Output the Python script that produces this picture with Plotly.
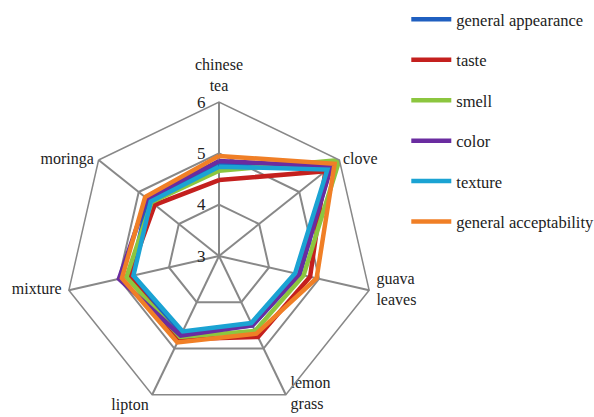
import plotly.graph_objects as go

categories = ["chinese tea", "clove", "guava leaves", "lemon grass", "lipton", "mixture", "moringa"]
category_labels = ["chinese<br>tea", "clove", "guava<br>leaves", "lemon<br>grass", "lipton", "mixture", "moringa"]

series_names = ["general appearance", "taste", "smell", "color", "texture", "general acceptability"]
general_appearance = [4.79, 5.78, 4.61, 4.50, 4.68, 4.76, 4.77]
taste = [4.48, 5.65, 4.82, 4.75, 4.80, 4.80, 4.60]
smell = [4.66, 6.00, 4.69, 4.62, 4.75, 4.85, 4.68]
color = [4.85, 5.80, 4.60, 4.50, 4.72, 5.00, 4.80]
texture = [4.74, 5.70, 4.52, 4.45, 4.63, 4.71, 4.70]
general_acceptability = [4.95, 5.88, 4.95, 4.68, 4.87, 4.94, 4.84]

radial_ticks = [3, 4, 5, 6]

all_series = [general_appearance, taste, smell, color, texture, general_acceptability]
colors = ["#1F5FC0", "#C4201E", "#8CC63F", "#6A2CA0", "#1BA3D3", "#F07F26"]

FONT = "Liberation Serif"
TEXT_COLOR = "#222222"
R_MAX = radial_ticks[-1]
label_positions = ["top center", "middle right", "middle right", "middle right",
                   "bottom left", "middle left", "middle left"]
label_gaps = [10, 4, 10, 6, 4, 10, 6]

fig = go.Figure()
for i, (name, vals, c) in enumerate(zip(series_names, all_series, colors)):
    fig.add_trace(go.Scatterpolar(
        r=vals + [vals[0]],
        theta=categories + [categories[0]],
        mode="lines",
        name=name,
        legendgroup=f"g{i}",
        line=dict(color=c, width=4.5),
    ))

# category labels, placed at the outer ring through the polar axes
fig.add_trace(go.Scatterpolar(
    r=[R_MAX] * len(categories),
    theta=categories,
    mode="markers+text",
    marker=dict(size=label_gaps, opacity=0),
    text=category_labels,
    textposition=label_positions,
    textfont=dict(family=FONT, size=16, color=TEXT_COLOR),
    showlegend=False,
    hoverinfo="skip",
    cliponaxis=False,
))

fig.update_layout(
    width=594, height=417,
    margin=dict(l=0, r=0, t=0, b=0, autoexpand=False),
    paper_bgcolor="white",
    plot_bgcolor="white",
    font=dict(family=FONT, size=15, color=TEXT_COLOR),
    showlegend=True,
    legend=dict(
        x=0.684, y=0.995, xanchor="left", yanchor="top",
        tracegroupgap=16,
        itemwidth=40,
        font=dict(family=FONT, size=16.5, color=TEXT_COLOR),
        bgcolor="rgba(0,0,0,0)",
    ),
    polar=dict(
        domain=dict(x=[65/594, 373/594], y=[1-410/417, 1-102/417]),
        bgcolor="white",
        gridshape="linear",
        radialaxis=dict(
            range=[3, 6],
            tickvals=radial_ticks,
            ticktext=[str(t) for t in radial_ticks],
            angle=90,
            tickangle=90,
            side="counterclockwise",
            showline=False,
            ticks="outside",
            ticklen=7,
            tickcolor="rgba(0,0,0,0)",
            gridcolor="#888888",
            gridwidth=1.5,
            tickfont=dict(family=FONT, size=17, color=TEXT_COLOR),
        ),
        angularaxis=dict(
            rotation=90,
            direction="clockwise",
            showline=True,
            linecolor="#888888",
            linewidth=1.5,
            gridcolor="#888888",
            gridwidth=1.5,
            ticks="",
            showticklabels=False,
        ),
    ),
)

fig.write_html("out.html")
